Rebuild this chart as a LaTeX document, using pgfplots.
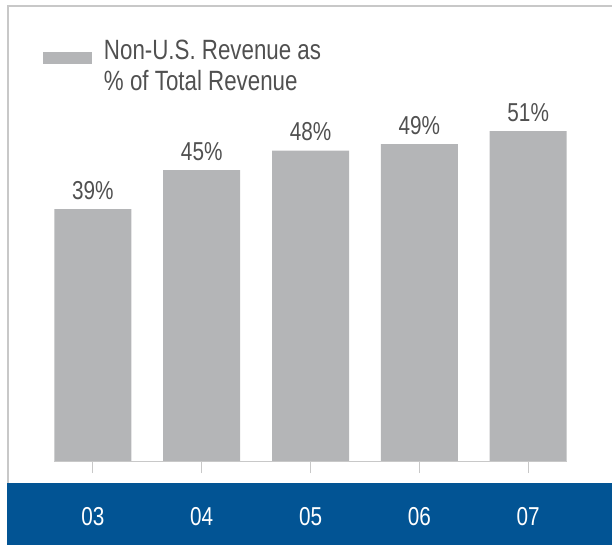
\documentclass[border=0pt]{standalone}
\usepackage{pgfplots}
\pgfplotsset{compat=1.18}
\usepackage{fontspec}
\setmainfont[FakeStretch=0.8]{Liberation Sans}
\definecolor{bargray}{RGB}{180,181,183}
\definecolor{bandblue}{RGB}{2,84,148}
\definecolor{framegray}{RGB}{200,200,200}
\definecolor{txtgray}{RGB}{80,80,80}

\begin{document}
\begin{tikzpicture}
\useasboundingbox (-8bp,-83bp) rectangle (604bp,462bp);
% blue band under the chart
\fill[bandblue] (-1bp,-83bp) rectangle (604bp,-21bp);
% frame
\draw[framegray, line width=1.5bp] (0bp,-21bp) -- (0bp,456bp) -- (604bp,456bp);
\begin{axis}[
    at={(0,0)}, anchor=south west,
    scale only axis,
    width=604bp, height=454bp,
    ybar, bar width=77bp,
    xmin=-0.78, xmax=4.77,
    ymin=0, ymax=70,
    axis y line=none,
    axis x line*=bottom,
    x axis line style={draw=none},
    xtick=data,
    xticklabels={03,04,05,06,07},
    major tick length=11bp,
    tick align=outside,
    xtick style={framegray, line width=1bp},
    xticklabel style={font=\fontsize{26}{30}\selectfont, text=white, anchor=base, yshift=-52bp},
    nodes near coords={\pgfmathprintnumber{\pgfplotspointmeta}\%},
    nodes near coords style={font=\fontsize{26}{30}\selectfont, text=txtgray, anchor=base, inner sep=0pt, yshift=10bp, /pgf/number format/assume math mode=true},
    legend style={at={(axis description cs:0,1)}, anchor=north west, xshift=35bp, yshift=-32bp,
        draw=none, fill=none, inner sep=0pt, outer sep=0pt,
        font=\fontsize{28}{31}\selectfont, text=txtgray,
        nodes={align=left, inner sep=0pt}, column sep=12bp},
    legend image code/.code={\fill[bargray] (0bp,2bp) rectangle (49bp,14bp);},
    clip=false,
]
\addplot[fill=bargray, draw=none] coordinates {
    (0,39) (1,45) (2,48) (3,49) (4,51)
};
\addlegendentry{Non-U.S. Revenue as\\\% of Total Revenue}
\draw[framegray, line width=1bp] (axis cs:-0.354,0) -- (axis cs:4.354,0);
\end{axis}
\end{tikzpicture}
\end{document}
